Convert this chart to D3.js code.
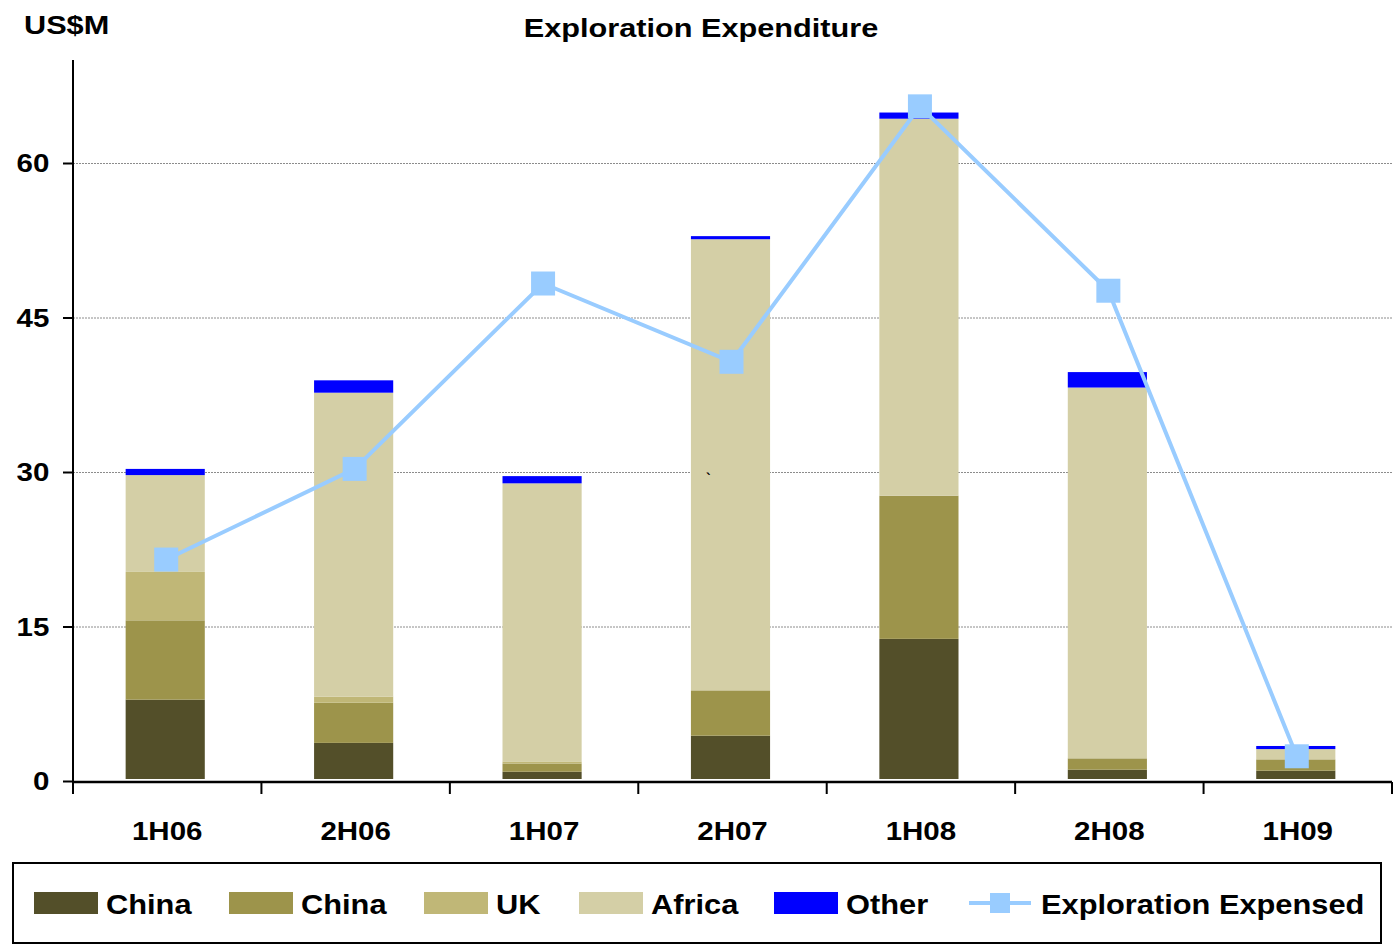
<!DOCTYPE html>
<html>
<head>
<meta charset="utf-8">
<script src="https://cdn.jsdelivr.net/npm/d3@7"></script>
<style>
  body { margin: 0; background: #fff; }
  svg { display: block; font-family: "Liberation Sans", Arial, sans-serif; font-weight: bold; }
</style>
</head>
<body>
<div id="chart"></div>
<script>
const categories = ['1H06', '2H06', '1H07', '2H07', '1H08', '2H08', '1H09'];
const chinaA = [7.9, 3.7, 0.9, 4.4, 13.8, 1.1, 1.0];
const chinaB = [7.7, 3.9, 0.8, 4.4, 13.9, 1.1, 1.1];
const uk = [4.7, 0.6, 0.2, 0, 0, 0, 0];
const africa = [9.4, 29.5, 27.0, 43.8, 36.6, 36.0, 1.0];
const other = [0.6, 1.2, 0.7, 0.3, 0.6, 1.5, 0.3];
const expensed = [21.5, 30.3, 48.3, 40.7, 65.5, 47.6, 2.4];
const yTicks = [0, 15, 30, 45, 60];

const seriesNames = ['China', 'China', 'UK', 'Africa', 'Other'];
const seriesColors = ['#534f29', '#9d944b', '#c0b777', '#d4cfa6', '#0000ff'];
const lineName = 'Exploration Expensed';
const lineColor = '#99ccff';

const width = 1394, height = 945;
const margin = { top: 60, right: 2, bottom: 164, left: 73 };

const svg = d3.select('#chart').append('svg')
  .attr('width', width)
  .attr('height', height);

const x = d3.scaleBand()
  .domain(categories)
  .range([margin.left, width - margin.right])
  .padding(0);

const y = d3.scaleLinear()
  .domain([0, 70])
  .range([height - margin.bottom, margin.top]);

const barW = x.bandwidth() * 0.42;
const sx = 1.18; // text in the original is stretched sideways

// gridlines
svg.append('g')
  .selectAll('line')
  .data(yTicks.filter(d => d > 0))
  .join('line')
  .attr('x1', margin.left)
  .attr('x2', width - margin.right)
  .attr('y1', d => y(d) + 0.5)
  .attr('y2', d => y(d) + 0.5)
  .attr('stroke', '#8c8c8c')
  .attr('stroke-width', 1)
  .attr('stroke-dasharray', '2,1');

// stacked bars
const rows = categories.map((c, i) => ({
  cat: c, s0: chinaA[i], s1: chinaB[i], s2: uk[i], s3: africa[i], s4: other[i]
}));
const stack = d3.stack().keys(['s0', 's1', 's2', 's3', 's4'])(rows);

svg.append('g')
  .selectAll('g')
  .data(stack)
  .join('g')
  .attr('fill', (d, i) => seriesColors[i])
  .selectAll('rect')
  .data(d => d)
  .join('rect')
  .attr('x', d => x(d.data.cat) + (x.bandwidth() - barW) / 2 - 2)
  .attr('y', d => y(d[1]))
  .attr('width', barW)
  .attr('height', d => Math.max(0, Math.min(y(d[0]), y(0) - 2) - y(d[1])));

// stray mark in the source image
svg.append('text')
  .attr('x', 706).attr('y', 484)
  .style('font-size', '14px')
  .text('`');

// x axis
const xAxis = svg.append('g')
  .attr('transform', `translate(0,${y(0) + 1})`);
xAxis.append('line')
  .attr('x1', margin.left).attr('x2', width - margin.right)
  .attr('stroke', '#000').attr('stroke-width', 2.5);
xAxis.selectAll('.tk')
  .data(categories.map(c => x(c)).concat([x.range()[1]]))
  .join('line')
  .attr('x1', d => d).attr('x2', d => d)
  .attr('y1', 0).attr('y2', 12)
  .attr('stroke', '#000').attr('stroke-width', 2);
xAxis.selectAll('text')
  .data(categories)
  .join('text')
  .attr('transform', d => `translate(${x(d) + x.bandwidth() / 2},58) scale(${sx},1)`)
  .attr('text-anchor', 'middle')
  .style('font-size', '25px')
  .text(d => d);

// y axis
svg.append('g')
  .attr('transform', `translate(${margin.left},0)`)
  .call(d3.axisLeft(y).tickValues(yTicks).tickSize(10).tickSizeOuter(0).tickFormat(d3.format('d')))
  .call(g => g.select('.domain').attr('stroke-width', 2).attr('d', `M0,${margin.top}V${y(0) + 1}`))
  .call(g => g.selectAll('.tick line').attr('stroke-width', 2))
  .call(g => g.selectAll('.tick text')
    .attr('x', -20)
    .attr('dy', '0.35em')
    .attr('transform', `scale(${sx},1)`)
    .style('font-size', '25px')
    .style('font-family', '"Liberation Sans", Arial, sans-serif')
    .style('font-weight', 'bold')
    .attr('fill', '#000'));

// line series
const line = d3.line()
  .x((d, i) => x(categories[i]) + x.bandwidth() / 2 - 1)
  .y(d => y(d));

svg.append('path')
  .datum(expensed)
  .attr('d', line)
  .attr('fill', 'none')
  .attr('stroke', lineColor)
  .attr('stroke-width', 4);

svg.append('g')
  .selectAll('rect')
  .data(expensed)
  .join('rect')
  .attr('x', (d, i) => x(categories[i]) + x.bandwidth() / 2 - 13)
  .attr('y', d => y(d) - 12)
  .attr('width', 24)
  .attr('height', 24)
  .attr('fill', lineColor);

// titles
svg.append('text')
  .attr('transform', `translate(701,37) scale(${sx},1)`)
  .attr('text-anchor', 'middle')
  .style('font-size', '26px')
  .text('Exploration Expenditure');

svg.append('text')
  .attr('transform', `translate(24,34) scale(${sx},1)`)
  .style('font-size', '26px')
  .text('US$M');

// legend
const legend = svg.append('g');
legend.append('rect')
  .attr('x', 13).attr('y', 863)
  .attr('width', 1368).attr('height', 80)
  .attr('fill', 'none')
  .attr('stroke', '#000')
  .attr('stroke-width', 2);

const legendX = [34, 229, 424, 579, 774];
seriesNames.forEach((name, i) => {
  legend.append('rect')
    .attr('x', legendX[i]).attr('y', 892)
    .attr('width', 64).attr('height', 22)
    .attr('fill', seriesColors[i]);
  legend.append('text')
    .attr('transform', `translate(${legendX[i] + 72},914) scale(1.1,1)`)
    .style('font-size', '28px')
    .text(name);
});

legend.append('line')
  .attr('x1', 969).attr('x2', 1031)
  .attr('y1', 903).attr('y2', 903)
  .attr('stroke', lineColor).attr('stroke-width', 4);
legend.append('rect')
  .attr('x', 990).attr('y', 893)
  .attr('width', 20).attr('height', 20)
  .attr('fill', lineColor);
legend.append('text')
  .attr('transform', 'translate(1041,914) scale(1.1,1)')
  .style('font-size', '28px')
  .text(lineName);
</script>
</body>
</html>
